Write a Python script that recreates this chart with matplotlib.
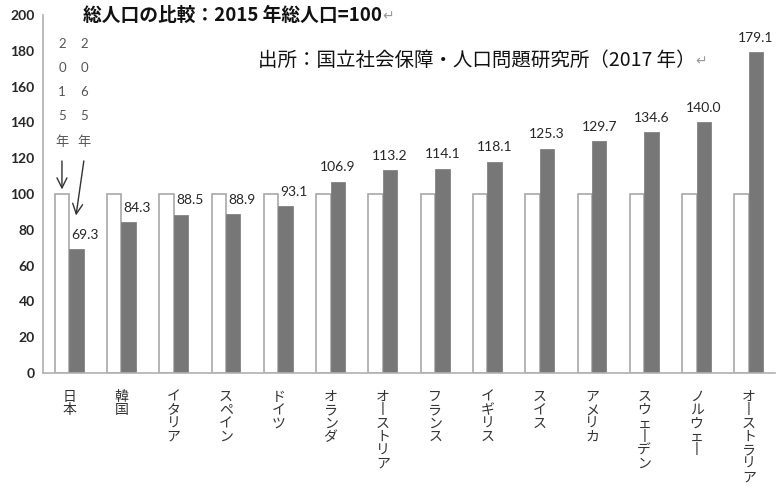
import numpy as np
import matplotlib.pyplot as plt

plt.rcParams['font.family'] = ['Noto Sans CJK JP', 'DejaVu Sans']

countries = ["日本", "韓国", "イタリア", "スペイン", "ドイツ", "オランダ", "オーストリア",
             "フランス", "イギリス", "スイス", "アメリカ", "スウェーデン", "ノルウェー", "オーストラリア"]
pop_2015 = [100, 100, 100, 100, 100, 100, 100, 100, 100, 100, 100, 100, 100, 100]
pop_2065 = [69.3, 84.3, 88.5, 88.9, 93.1, 106.9, 113.2, 114.1, 118.1, 125.3, 129.7, 134.6, 140.0, 179.1]
yticks = [0, 20, 40, 60, 80, 100, 120, 140, 160, 180, 200]

fig = plt.figure(figsize=(7.8, 4.95), dpi=100)
ax = fig.add_axes([43/780, 1-373/495, 732/780, 358/495])

x = np.arange(len(countries))
w = 0.275
ax.bar(x - w/2, pop_2015, w, color='white', edgecolor='#a8a8a8', linewidth=1.2)
ax.bar(x + w/2, pop_2065, w, color='#777777', edgecolor='#777777', linewidth=0.5)

# value labels, pushed right when near the 100 bar
for i, v in enumerate(pop_2065):
    dx = 0.17 if v < 100 else 0
    ax.annotate(f"{v:.1f}", (x[i] + w/2 + dx, v), xytext=(0, 6), textcoords='offset points',
                ha='center', va='bottom', fontsize=10, color='#262626', family='Lato')

ax.set_xlim(-0.5, len(countries) - 0.5)
ax.set_ylim(0, 200)
ax.set_yticks(yticks)
ax.set_yticklabels([str(t) for t in yticks], family='Lato', fontweight='bold', fontsize=10, color='#262626')
ax.set_xticks(x)
# vertical writing: long vowel mark becomes a vertical stroke
vert = ["\n".join(c.replace("ー", "丨")) for c in countries]
ax.set_xticklabels(vert, fontsize=10, color='#333333', linespacing=0.95, va='top')
ax.tick_params(axis='both', length=0)
ax.tick_params(axis='x', pad=12)
ax.tick_params(axis='y', pad=6)
for s in ['top', 'right']:
    ax.spines[s].set_visible(False)
for s in ['left', 'bottom']:
    ax.spines[s].set_color('#b0b0b0')
    ax.spines[s].set_linewidth(1.2)

# year markers with arrows
yr_font = ['Lato', 'Noto Sans CJK JP']
ax.text(x[0] - w/2, 187, "2\n0\n1\n5\n年", ha='center', va='top', fontsize=9.5,
        color='#555555', linespacing=2.2, family=yr_font)
ax.text(x[0] + w*1.05, 187, "2\n0\n6\n5\n年", ha='center', va='top', fontsize=9.5,
        color='#555555', linespacing=2.2, family=yr_font)
ax.annotate("", xy=(x[0] - w/2, 101), xytext=(x[0] - w/2, 120),
            arrowprops=dict(arrowstyle='->', color='#333333', lw=1, mutation_scale=18))
ax.annotate("", xy=(x[0] + w*0.45, 86.5), xytext=(x[0] + w*1.05, 120),
            arrowprops=dict(arrowstyle='->', color='#333333', lw=1, mutation_scale=18))

t1 = fig.text(83/780, 1-15/495, "総人口の比較：2015 年総人口=100", fontsize=13.5,
              fontweight='bold', va='center', ha='left', color='#111111')
ax.annotate("↵", xy=(1, 0.45), xycoords=t1, va='center', ha='left', fontsize=10, color='#999999',
            family='DejaVu Sans', annotation_clip=False)
t2 = fig.text(258/780, 1-60/495, "出所：国立社会保障・人口問題研究所（2017 年）", fontsize=14,
              va='center', ha='left', color='#111111')
ax.annotate("↵", xy=(1, 0.45), xycoords=t2, va='center', ha='left', fontsize=10, color='#999999',
            family='DejaVu Sans', annotation_clip=False)

fig.savefig("out.png", dpi=100)
